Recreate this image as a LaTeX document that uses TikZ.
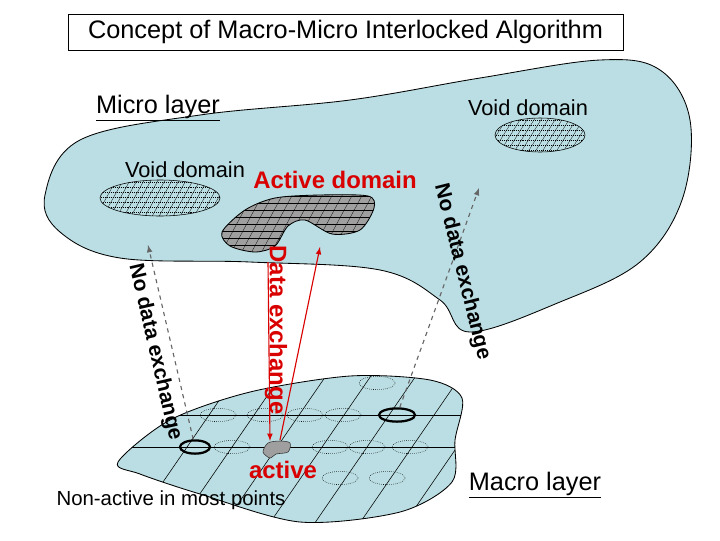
\documentclass[tikz,border=0pt]{standalone}
\usepackage{fontspec}
\setmainfont{Liberation Sans}
\usetikzlibrary{calc,shapes.geometric}
\definecolor{layer}{RGB}{186,222,227}
\tikzset{
    blob/.style = {draw=black, fill=layer, line width=0.6pt},
    lbl/.style = {font=\fontsize{15.5}{18}\selectfont, inner sep=1pt},
    red lbl/.style = {lbl, text=red!85!black, font=\bfseries\fontsize{17}{19}\selectfont},
    rot lbl/.style = {lbl, font=\bfseries\fontsize{15}{18}\selectfont},
    gap/.style = {draw=black!60, dashed, thick, -latex},
    link/.style = {draw=red!85!black, thick, -latex},
    cell/.style = {draw=black, densely dotted, line width=0.4pt},
    hit/.style = {draw=black, line width=1.6pt}
}
\begin{document}
\begin{tikzpicture}[x=0.025cm, y=-0.025cm]
	\useasboundingbox (0,0) rectangle (720,540);
	% title
	\node (title) [draw, minimum width=555*0.025cm, minimum height=36*0.025cm, lbl, font=\fontsize{18}{20}\selectfont] at (345.5,32) {Concept of Macro-Micro Interlocked Algorithm};
	% micro layer
	\draw [blob] plot[smooth cycle, tension=0.6] coordinates {(45,195) (80,140) (200,115) (350,100) (480,78) (600,60) (660,70) (690,120) (682,200) (640,262) (560,302) (470,332) (440,300) (380,270) (250,262) (120,258) (60,232)};
	\node (voidtl) [draw, ellipse, minimum width=120*0.025cm, minimum height=36*0.025cm] at (160,198) {};
	\node (voidtr) [draw, ellipse, minimum width=90*0.025cm, minimum height=34*0.025cm] at (540,135) {};
	\begin{scope}
	  \clip (160,198) ellipse [x radius=60, y radius=18];
	  \foreach \y in {182,187,...,216} \draw [densely dotted] (95,\y) -- (225,\y);
	  \foreach \x in {80,87,...,240} \draw [very thin] (\x,220) -- (\x+25,175);
	\end{scope}
	\begin{scope}
	  \clip (540,135) ellipse [x radius=45, y radius=17];
	  \foreach \y in {120,125,...,152} \draw [densely dotted] (490,\y) -- (590,\y);
	  \foreach \x in {470,477,...,610} \draw [very thin] (\x,155) -- (\x+25,115);
	\end{scope}
	% active domain
	\draw [fill=gray!75, line width=0.6pt] plot[smooth cycle, tension=0.5] coordinates {(222,232) (245,210) (275,198) (320,195) (368,196) (374,208) (360,230) (332,234) (305,220) (288,226) (275,246) (255,252) (230,246)};
	\begin{scope}
	  \clip plot[smooth cycle, tension=0.5] coordinates {(222,232) (245,210) (275,198) (320,195) (368,196) (374,208) (360,230) (332,234) (305,220) (288,226) (275,246) (255,252) (230,246)};
	  \foreach \y in {196,203,...,252} \draw [very thin] (215,\y) -- (380,\y);
	  \foreach \x in {180,190,...,380} \draw [very thin] (\x,255) -- (\x+35,190);
	\end{scope}
	% macro layer
	\draw [blob] plot[smooth cycle, tension=0.5] coordinates {(118,462) (170,420) (250,392) (350,376) (430,380) (462,398) (455,440) (452,482) (400,512) (300,522) (200,494) (140,474)};
	\begin{scope}
	  \clip plot[smooth cycle, tension=0.5] coordinates {(118,462) (170,420) (250,392) (350,376) (430,380) (462,398) (455,440) (452,482) (400,512) (300,522) (200,494) (140,474)};
	  \draw (150,415) -- (470,415);
	  \draw (110,447) -- (470,447);
	  \foreach \x in {130,175,...,490} \draw [thin] (\x,530) -- (\x+110,370);
	\end{scope}
	\foreach \x/\y [count=\i] in {218/415, 265/415, 305/415, 343/415, 232/447, 330/447, 367/447, 410/447, 340/478, 387/478, 377/383} {
	  \node (cell\i) [cell, ellipse, minimum width=36*0.025cm, minimum height=13*0.025cm] at (\x,\y) {};
	}
	\node (hitr) [hit, ellipse, minimum width=36*0.025cm, minimum height=13*0.025cm] at (397,415) {};
	\node (hitl) [hit, ellipse, minimum width=30*0.025cm, minimum height=13*0.025cm] at (195,447) {};
	\draw [fill=gray!75, draw=gray!40!black] plot[smooth cycle, tension=0.5] coordinates {(263,452) (268,443) (280,441) (290,443) (288,452) (276,454) (270,458)};
	\coordinate (act) at (270,441);
	\coordinate (actb) at (280,440);
	% connectors
	\coordinate (micl) at (148,245);
	\coordinate (micr) at (479,188);
	\coordinate (mica) at (268,262);
	\coordinate (micb) at (320,247);
	\draw [gap] (hitl) -- (micl);
	\draw [gap] (hitr) -- (micr);
	\draw [link] (mica) -- (act);
	\draw [link] (actb) -- (micb);
	% labels
	\node (micro) [lbl, font=\fontsize{18}{20}\selectfont] at (158,108) {\underline{Micro layer}};
	\node (voidr) [lbl] at (528,108) {Void domain};
	\node (voidl) [lbl] at (185,170) {Void domain};
	\node (actd) [red lbl] at (335,180) {Active domain};
	\node (xchg) [red lbl, rotate=-90] at (276,330) {Data exchange};
	\node (nol) [rot lbl, rotate=-77] at (155,352) {No data exchange};
	\node (nor) [rot lbl, rotate=-76] at (462,272) {No data exchange};
	\node (actl) [red lbl] at (283,470) {active};
	\node (nonact) [lbl, font=\fontsize{14.5}{17}\selectfont] at (171,500) {Non-active in most points};
	\node (macro) [lbl, font=\fontsize{18}{20}\selectfont] at (535,485) {\underline{Macro layer}};
\end{tikzpicture}
\end{document}
